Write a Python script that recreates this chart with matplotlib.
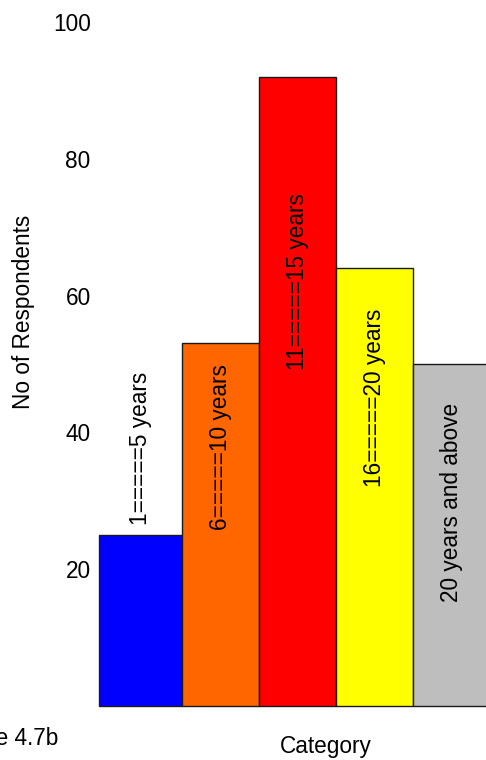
import numpy as np
import matplotlib.pyplot as plt

plt.rcParams['font.family'] = ['Liberation Sans', 'DejaVu Sans']

categories = ['1=====5 years', '6=====10 years', '11=====15 years',
              '16=====20 years', '20 years and above']
respondents = [25, 53, 92, 64, 50]
colors = ['#0000ff', '#ff6600', '#ff0000', '#ffff00', '#bebebe']
y_ticks = [20, 40, 60, 80, 100]

# first bar is a touch wider than the rest
widths = np.array([1.08, 1, 1, 1, 1])
lefts = np.concatenate([[0], np.cumsum(widths)[:-1]])
centers = lefts + widths / 2
# vertical centre of each rotated category label (data units)
label_y = [37.7, 37.9, 62.1, 45.0, 29.8]

fs = 16.3
fig = plt.figure(figsize=(4.86, 7.6), dpi=100)
ax = fig.add_axes([99 / 486, 54 / 760, 387 / 486, 684 / 760])

ax.bar(lefts, respondents, width=widths, align='edge', color=colors,
       edgecolor='#1a1a1a', linewidth=1, clip_on=False)

for xc, yc, lab in zip(centers, label_y, categories):
    ax.text(xc, yc, lab, rotation=90, ha='center', va='center',
            fontsize=fs, color='black')

ax.set_xlim(0, 387 / 77)
ax.set_ylim(0, 100)
ax.set_yticks(y_ticks)
ax.set_yticklabels([str(v) for v in y_ticks], fontsize=fs)
ax.tick_params(axis='y', length=0, pad=6)
ax.set_xticks([])
for s in ax.spines.values():
    s.set_visible(False)

fig.text(24 / 486, 1 - 312 / 760, 'No of Respondents', rotation=90,
         ha='center', va='center', fontsize=fs)
fig.text(326 / 486, 1 - 747 / 760, 'Category', ha='center', va='center',
         fontsize=fs)
fig.text(58 / 486, 1 - 745 / 760, 'Figure 4.7b', ha='right', va='baseline',
         fontsize=fs)

fig.savefig('out.png', dpi=100)
